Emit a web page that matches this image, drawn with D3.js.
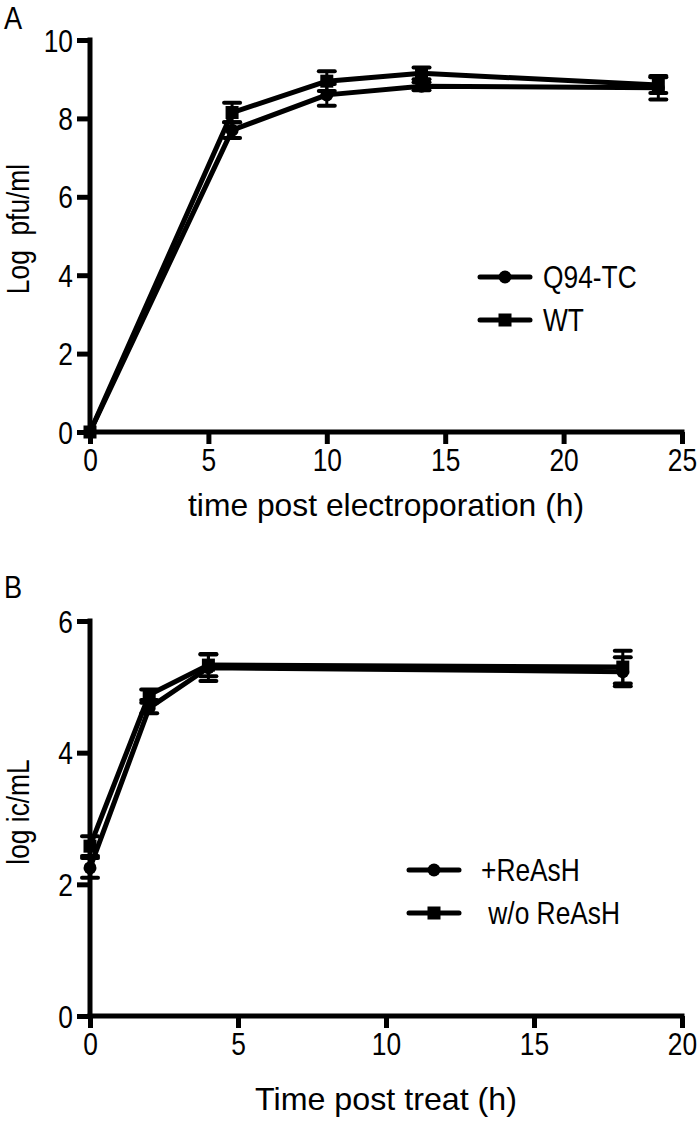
<!DOCTYPE html>
<html><head><meta charset="utf-8">
<script src="https://cdn.jsdelivr.net/npm/d3@7"></script>
<style>
html,body{margin:0;padding:0;background:#fff;}
text{font-family:"Liberation Sans",Arial,sans-serif;fill:#000;}
</style></head>
<body>
<svg id="chart" width="700" height="1128"></svg>
<script>
// ---- Panel A data ----
const timeA = [0, 6, 10, 14, 24];
const q94 = [0, 7.7, 8.6, 8.82, 8.78];
const q94Err = [0, 0.2, 0.28, 0.1, 0.3];
const wt = [0, 8.15, 8.95, 9.15, 8.85];
const wtErr = [0, 0.25, 0.25, 0.15, 0.2];
const xTicksA = [0, 5, 10, 15, 20, 25];
const yTicksA = [0, 2, 4, 6, 8, 10];
const legendA = ["Q94-TC", "WT"];

// ---- Panel B data ----
const timeB = [0, 2, 4, 18];
const plusReAsH = [2.25, 4.68, 5.29, 5.23];
const plusErr = [0.15, 0.08, 0.2, 0.22];
const woReAsH = [2.58, 4.88, 5.33, 5.3];
const woErr = [0.15, 0.08, 0.17, 0.25];
const xTicksB = [0, 5, 10, 15, 20];
const yTicksB = [0, 2, 4, 6];
const legendB = ["+ReAsH", " w/o ReAsH"];

const svg = d3.select("#chart");
const FS = 31;       // font size
const SQZ = 0.85;    // horizontal condensing

function panel(cfg) {
  const g = svg.append("g");
  const x = d3.scaleLinear().domain(cfg.xDomain).range([90, 682]);
  const y = d3.scaleLinear().domain(cfg.yDomain).range(cfg.yRange);
  const y0 = cfg.yRange[0];

  const xa = g.append("g").attr("transform", `translate(0,${y0})`)
    .call(d3.axisBottom(x).tickValues(cfg.xTicks).tickSize(12).tickPadding(5).tickFormat(d3.format("d")));
  const ya = g.append("g").attr("transform", `translate(90,0)`)
    .call(d3.axisLeft(y).tickValues(cfg.yTicks).tickSize(13).tickPadding(4).tickFormat(d3.format("d")));
  [xa, ya].forEach(a => {
    a.select(".domain").attr("stroke", "#000").attr("stroke-width", 5).attr("stroke-linecap", "square");
    a.selectAll(".tick line").attr("stroke", "#000").attr("stroke-width", 5);
    a.selectAll(".tick text").attr("font-size", FS).attr("fill", "#000")
      .style("font-family", "'Liberation Sans', Arial, sans-serif");
  });
  xa.select(".domain").attr("d", `M90,0H682`);
  ya.select(".domain").attr("d", `M0,${cfg.yRange[1]}V${y0}`);
  // condense tick labels around their anchor
  xa.selectAll(".tick text").attr("transform", `scale(${SQZ},1)`);
  ya.selectAll(".tick text").attr("x", 0).attr("dy", "0.36em")
    .attr("transform", `translate(-17,0) scale(${SQZ},1)`);

  const line = d3.line().x(d => x(d[0])).y(d => y(d[1]));

  cfg.series.forEach(s => {
    const pts = cfg.times.map((t, i) => [t, s.values[i], s.err[i]]);
    g.append("path").datum(pts).attr("d", line)
      .attr("fill", "none").attr("stroke", "#000").attr("stroke-width", 5)
      .attr("stroke-linejoin", "round");
    pts.filter(p => p[2] > 0).forEach(p => {
      const cx = x(p[0]);
      const yt = y(p[1] + p[2]), yb = y(p[1] - p[2]);
      g.append("line").attr("x1", cx).attr("x2", cx).attr("y1", yt).attr("y2", yb)
        .attr("stroke", "#000").attr("stroke-width", 3);
      [yt, yb].forEach(yy => g.append("line").attr("x1", cx - 8).attr("x2", cx + 8)
        .attr("y1", yy).attr("y2", yy).attr("stroke", "#000").attr("stroke-width", 4)
        .attr("stroke-linecap", "round"));
    });
    pts.forEach(p => marker(g, s.shape, x(p[0]), y(p[1])));
  });

  cfg.legend.forEach((name, i) => {
    const ly = cfg.legendY[i];
    const lx = cfg.legendX;
    g.append("line").attr("x1", lx).attr("x2", lx + 50).attr("y1", ly).attr("y2", ly)
      .attr("stroke", "#000").attr("stroke-width", 5).attr("stroke-linecap", "round");
    marker(g, cfg.series[i].shape, lx + 25, ly);
    g.append("text").attr("transform", `translate(${lx + cfg.textDx},${ly + 11}) scale(${SQZ},1)`)
      .attr("font-size", FS).attr("xml:space", "preserve").text(name);
  });

  g.append("text").attr("x", 386).attr("y", cfg.xTitleY).attr("text-anchor", "middle")
    .attr("font-size", FS + 1).attr("textLength", cfg.xTitleLen).attr("lengthAdjust", "spacingAndGlyphs")
    .text(cfg.xTitle);
  g.append("text").attr("transform", `translate(29,${cfg.yTitleC}) rotate(-90) scale(${SQZ},1)`)
    .attr("text-anchor", "middle").attr("font-size", FS).attr("xml:space", "preserve")
    .text(cfg.yTitle);
  g.append("text").attr("transform", `translate(4,${cfg.letterY}) scale(${SQZ},1)`)
    .attr("font-size", 32).text(cfg.letter);
}

function marker(g, shape, cx, cy) {
  if (shape === "circle") {
    g.append("circle").attr("cx", cx).attr("cy", cy).attr("r", 6.5).attr("fill", "#000");
  } else {
    g.append("rect").attr("x", cx - 6.5).attr("y", cy - 6.5).attr("width", 13).attr("height", 13).attr("fill", "#000");
  }
}

panel({
  xDomain: [0, 25], yDomain: [0, 10], yRange: [432, 40],
  xTicks: xTicksA, yTicks: yTicksA, times: timeA,
  series: [
    { values: q94, err: q94Err, shape: "circle" },
    { values: wt, err: wtErr, shape: "square" }
  ],
  legend: legendA, legendX: 480, legendY: [277, 320], textDx: 63,
  xTitle: "time post electroporation (h)", xTitleY: 516, xTitleLen: 396,
  yTitle: "Log  pfu/ml", yTitleC: 229, letter: "A", letterY: 29
});

panel({
  xDomain: [0, 20], yDomain: [0, 6], yRange: [1016, 621],
  xTicks: xTicksB, yTicks: yTicksB, times: timeB,
  series: [
    { values: plusReAsH, err: plusErr, shape: "circle" },
    { values: woReAsH, err: woErr, shape: "square" }
  ],
  legend: legendB, legendX: 409, legendY: [870, 913], textDx: 72,
  xTitle: "Time post treat (h)", xTitleY: 1110, xTitleLen: 262,
  yTitle: "log ic/mL", yTitleC: 812, letter: "B", letterY: 598
});
</script>
</body></html>
